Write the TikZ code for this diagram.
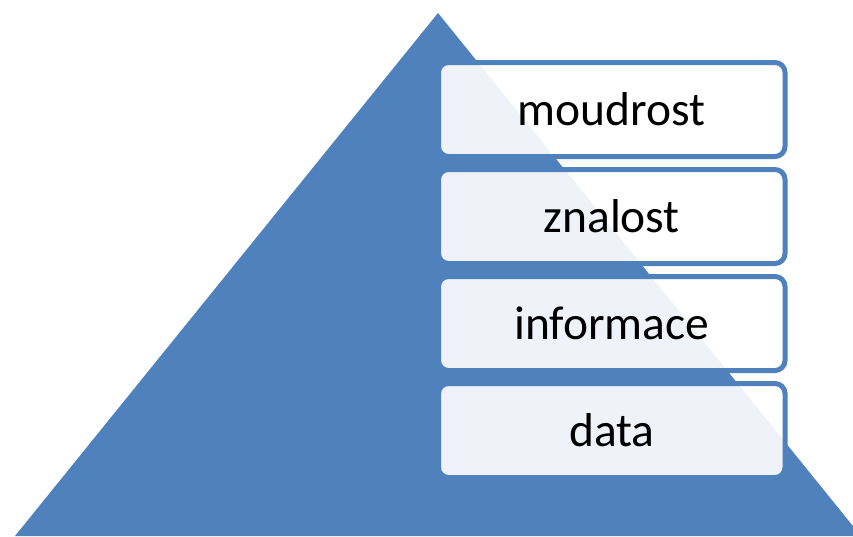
\documentclass[tikz,border=0pt]{standalone}
\usepackage{fontspec}
\setmainfont{Carlito}
\definecolor{pyrblue}{HTML}{4F81BD}
\begin{document}
\begin{tikzpicture}[x=1pt,y=-1pt,
  levelbox/.style={draw=pyrblue, line width=5pt, fill=white, fill opacity=0.91, text opacity=1,
    rounded corners=10pt, minimum width=346.5pt, minimum height=94pt, inner sep=0pt,
    font=\fontsize{47.5}{56}\selectfont, text=black}]
\useasboundingbox (0,0) rectangle (853,536);
\fill[pyrblue] (15,536) -- (438,13) -- (861,536) -- cycle;
\node[levelbox] (moudrost) at (611.75,109.5) {moudrost};
\node[levelbox] (znalost) at (611.75,216.5) {znalost};
\node[levelbox] (informace) at (611.75,323.5) {informace};
\node[levelbox] (data) at (611.75,430.5) {data};
\end{tikzpicture}
\end{document}
